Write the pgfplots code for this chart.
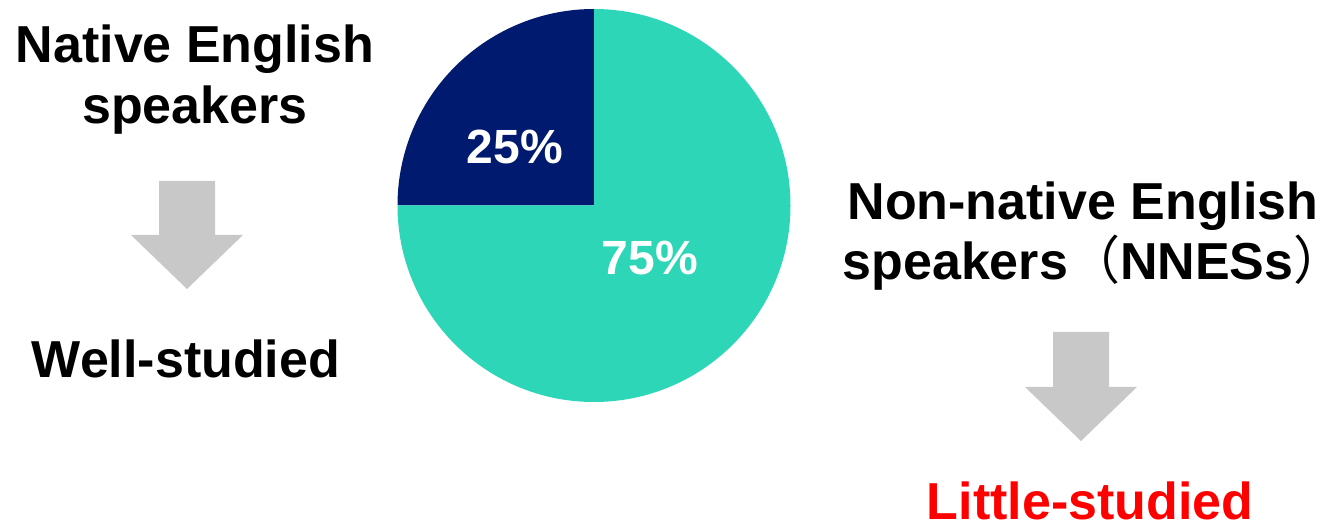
\documentclass[border=0pt]{standalone}
\usepackage{pgfplots}
\pgfplotsset{compat=1.18}
\usepackage{pgfplotstable}
\usepackage{fontspec}
\setmainfont{Liberation Sans}
\newfontfamily\cjk{Noto Sans CJK JP}
\definecolor{navy}{RGB}{0,26,112}
\definecolor{teal}{RGB}{46,214,184}
\definecolor{arrowgray}{RGB}{200,200,200}
\definecolor{red}{RGB}{255,0,0}
% pie shares (percent)
\pgfplotstableread{
label share
Native 25
NonNative 75
}\pietable
\tikzset{big/.style={inner sep=0pt, anchor=base, font=\bfseries\fontsize{26pt}{30pt}\selectfont},
         pct/.style={inner sep=0pt, anchor=base, text=white, font=\bfseries\fontsize{24pt}{28pt}\selectfont}}
\begin{document}
\begin{tikzpicture}
\begin{axis}[
  scale only axis, width=665pt, height=264.5pt,
  xmin=0, xmax=1330, ymin=0, ymax=529, y dir=reverse,
  hide axis, clip=false,
]
% pie: centre (594,205.5), radius 196.5 units = 98.25pt
\pgfplotstablegetelem{0}{share}\of\pietable \let\shareA\pgfplotsretval
\pgfmathsetmacro{\angA}{90+3.6*\shareA}
\fill[navy] (axis cs:594,205.5) -- (axis cs:594,9) arc[start angle=90, end angle=\angA, radius=98.25pt] -- cycle;
\fill[teal] (axis cs:594,205.5) -- (axis cs:594,9) arc[start angle=90, end angle=\angA-360, radius=98.25pt] -- cycle;
% arrows
\addplot[fill=arrowgray, draw=none] coordinates {(159,181) (215,181) (215,235) (243,235) (187,289) (131,235) (159,235) (159,181)} -- cycle;
\addplot[fill=arrowgray, draw=none] coordinates {(1053,332) (1109,332) (1109,387) (1137,387) (1081,441) (1025,387) (1053,387) (1053,332)} -- cycle;
% texts
\node[big] at (axis cs:195,63) {Native English};
\node[big] at (axis cs:195,124) {speakers};
\node[big] at (axis cs:186,378) {Well-studied};
\node[pct] at (axis cs:515,164) {25\%};
\node[pct] at (axis cs:650,275) {75\%};
\node[big] at (axis cs:1083,220) {Non-native English};
\node[big] at (axis cs:1084,280) {speakers{\cjk\mdseries （}NNESs{\cjk\mdseries ）}\kern-10pt};
\node[big, text=red] at (axis cs:1090,520) {Little-studied};
\end{axis}
\pgfresetboundingbox
\path[use as bounding box] (current axis.south west) rectangle (current axis.north east);
\end{tikzpicture}
\end{document}
